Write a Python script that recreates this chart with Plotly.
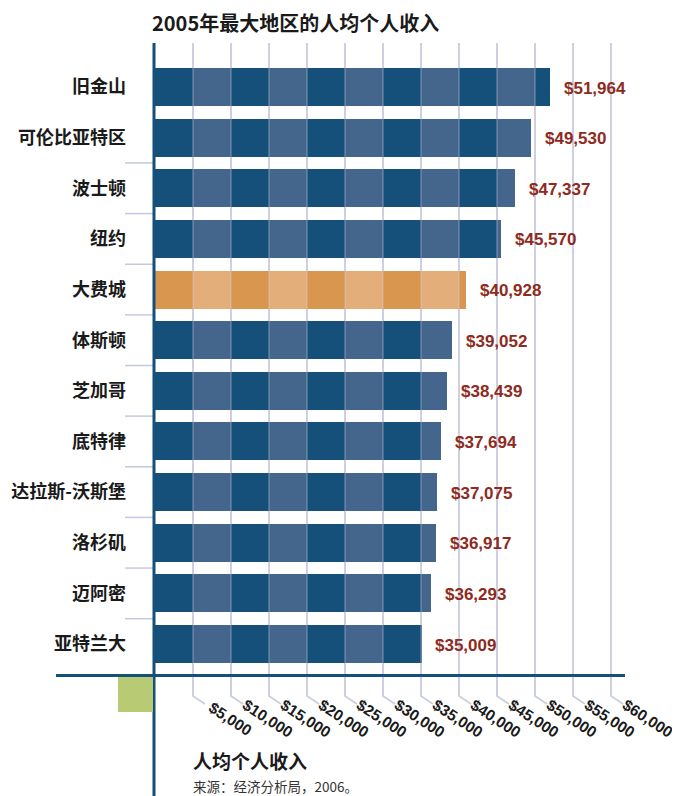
import plotly.graph_objects as go

# ---- data ----
cities = ["旧金山", "可伦比亚特区", "波士顿", "纽约", "大费城", "体斯顿", "芝加哥",
          "底特律", "达拉斯-沃斯堡", "洛杉矶", "迈阿密", "亚特兰大"]
income = [51964, 49530, 47337, 45570, 40928, 39052, 38439, 37694, 37075, 36917, 36293, 35009]
highlight = "大费城"
tick_values = [5000, 10000, 15000, 20000, 25000, 30000, 35000, 40000, 45000, 50000, 55000, 60000]
title_text = "2005年最大地区的人均个人收入"
axis_title = "人均个人收入"
source_text = "来源：经济分析局，2006。"

# ---- style ----
OFF = 8  # page body margin
W, H = 680 - OFF, 796 - OFF
L, R_PX, T, B_PX = 155, 625, 43, 675  # plot area in page pixels
PW, PH = R_PX - L, B_PX - T
STEP = 5000
XMAX = PW * 60000 / 456.0
YR = [11.612, -0.869]

BLUE_D, BLUE_L = "#15507A", "#44668C"
ORG_D, ORG_L = "#D9964F", "#E4AE7A"
GRID = "#CDD0E2"
AXIS = "#15507A"
RED = "#8E2A20"
GREEN = "#B8CA74"
NUMFONT = "Liberation Sans, Arial, sans-serif"
CJK = "Noto Sans CJK SC"


def px_x(px):
    return (px - L) / PW


def px_y(py):
    return (B_PX - py) / PH


def idx_y(i):
    return (YR[0] - i) / (YR[0] - YR[1])


fig = go.Figure()

nseg = 12
for k in range(nseg):
    widths = [max(0, min(STEP, v - STEP * k)) for v in income]
    colors = []
    for c in cities:
        if c == highlight:
            colors.append(ORG_D if k % 2 == 0 else ORG_L)
        else:
            colors.append(BLUE_D if k % 2 == 0 else BLUE_L)
    fig.add_trace(go.Bar(
        y=cities, x=widths, base=[STEP * k] * len(cities), orientation="h",
        width=0.75, marker=dict(color=colors, line=dict(width=0)),
        showlegend=False, hoverinfo="skip",
    ))

shapes = []
annotations = []

# gridlines with leaders
for g in tick_values:
    gx = g / XMAX
    shapes.append(dict(type="path", xref="paper", yref="paper", layer="below",
                       path=f"M {gx},1 L {gx},{px_y(696)} L {gx + 12 / PW},{px_y(704)}",
                       line=dict(color=GRID, width=2)))
    shapes.append(dict(type="line", xref="paper", yref="paper", layer="above",
                       x0=gx, x1=gx, y0=0, y1=1,
                       line=dict(color="rgba(205,208,226,0.35)", width=1.5)))
    annotations.append(dict(xref="paper", yref="paper", x=gx + 37 / PW, y=px_y(718),
                            text=f"${g:,}", showarrow=False, textangle=33,
                            xanchor="center", yanchor="middle",
                            font=dict(family=NUMFONT, size=15.5, color="#1a1a1a",
                                      weight="bold")))

# row separators at left
for i in range(1, len(cities) - 1):
    yy = idx_y(i + 0.5)
    shapes.append(dict(type="line", xref="paper", yref="paper", layer="above",
                       x0=px_x(125), x1=px_x(153), y0=yy, y1=yy,
                       line=dict(color="#C5C9DD", width=1.5)))

# axis lines
shapes.append(dict(type="line", xref="paper", yref="paper", layer="above",
                   x0=px_x(56), x1=px_x(625), y0=px_y(675.5), y1=px_y(675.5),
                   line=dict(color=AXIS, width=3)))
shapes.append(dict(type="line", xref="paper", yref="paper", layer="above",
                   x0=px_x(154), x1=px_x(154), y0=px_y(800), y1=1,
                   line=dict(color=AXIS, width=3)))
# green square
shapes.append(dict(type="rect", xref="paper", yref="paper", layer="above",
                   x0=px_x(118), x1=px_x(153), y0=px_y(712), y1=px_y(677),
                   fillcolor=GREEN, line=dict(width=0)))

# value labels
for c, v in zip(cities, income):
    annotations.append(dict(x=v, y=c, xref="x", yref="y", text=f"${v:,}",
                            showarrow=False, xanchor="left", yanchor="middle",
                            xshift=12, yshift=-1,
                            font=dict(family=NUMFONT, size=17, color=RED, weight="bold")))

# titles
annotations.append(dict(xref="paper", yref="paper", x=px_x(150), y=px_y(22),
                        text=title_text, showarrow=False, xanchor="left", yanchor="middle",
                        font=dict(family=CJK, size=20, color="#1a1a1a", weight="bold")))
annotations.append(dict(xref="paper", yref="paper", x=px_x(191), y=px_y(760),
                        text=axis_title, showarrow=False, xanchor="left", yanchor="middle",
                        font=dict(family=CJK, size=19, color="#1a1a1a", weight="bold")))
annotations.append(dict(xref="paper", yref="paper", x=px_x(191), y=px_y(786),
                        text=source_text, showarrow=False, xanchor="left", yanchor="middle",
                        font=dict(family=CJK, size=13.5, color="#333333")))

fig.update_layout(
    width=W, height=H,
    margin=dict(l=L - OFF, r=W - (R_PX - OFF), t=T - OFF, b=H - (B_PX - OFF), pad=0,
                autoexpand=False),
    paper_bgcolor="white", plot_bgcolor="white",
    barmode="overlay", bargap=0,
    xaxis=dict(range=[0, XMAX], showgrid=False, zeroline=False, showticklabels=False,
               showline=False, ticks="", automargin=False),
    yaxis=dict(categoryorder="array", categoryarray=cities, range=YR,
               showgrid=False, zeroline=False, showline=False, ticks="",
               ticklabelstandoff=28, automargin=False,
               tickfont=dict(family=CJK, size=18, color="#1a1a1a", weight="bold")),
    shapes=shapes, annotations=annotations,
    hovermode=False,
)

fig.write_html("out.html")
